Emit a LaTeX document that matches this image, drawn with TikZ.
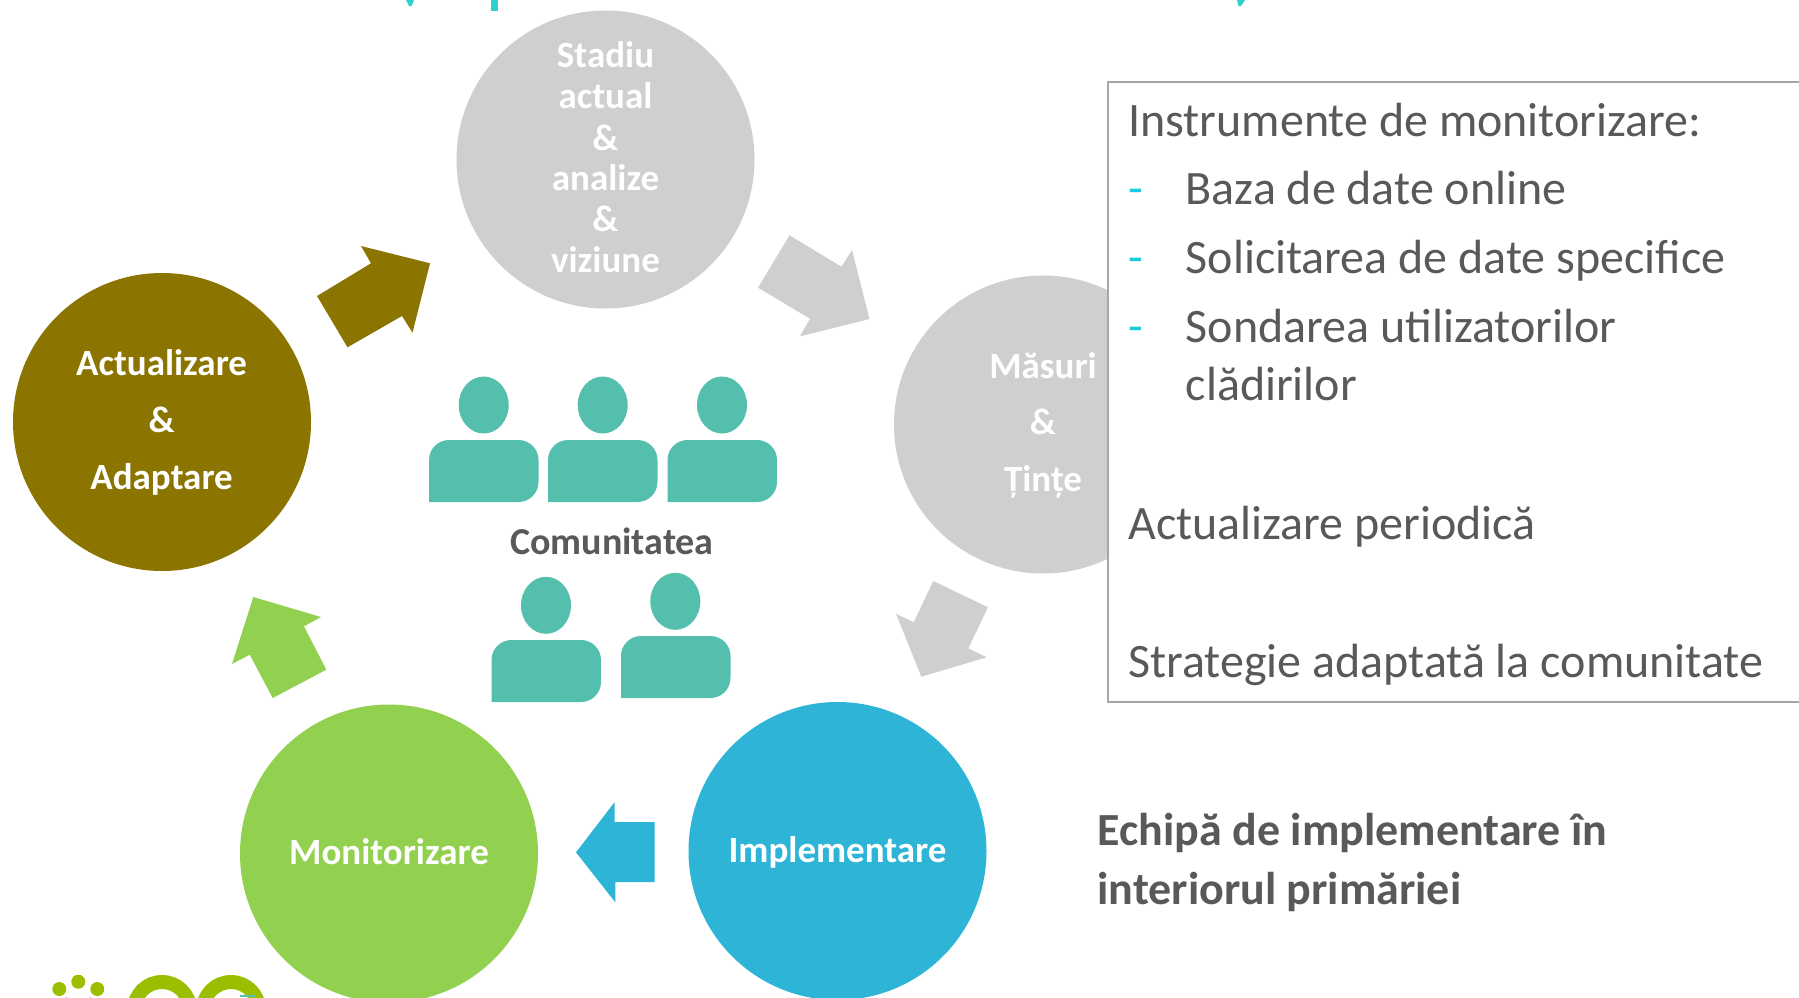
\documentclass[tikz,border=0pt]{standalone}
\usepackage{fontspec}
\setmainfont{Carlito}
\definecolor{greyc}{HTML}{D0CECE}
\definecolor{olive}{HTML}{8B7500}
\definecolor{lime}{HTML}{92D050}
\definecolor{sky}{HTML}{2DB4D6}
\definecolor{sea}{HTML}{55BFAD}
\definecolor{ink}{HTML}{595959}
\definecolor{dashc}{HTML}{18CBD8}
\definecolor{titlec}{HTML}{2FD0D0}
\definecolor{logo}{HTML}{9BBF00}
\tikzset{
  x=1pt,y=-1pt,
  stage/.style={circle,minimum size=298pt,inner sep=0pt,fill=#1},
  ctext/.style={text=white,font=\fontsize{37}{37}\selectfont\bfseries,anchor=base,inner sep=0pt},
  body/.style={text=ink,font=\fontsize{48}{48}\selectfont,anchor=base west,inner sep=0pt},
  bold/.style={text=ink,font=\fontsize{46}{46}\selectfont\bfseries,anchor=base west,inner sep=0pt},
  dashmark/.style={text=dashc,font=\fontsize{48}{48}\selectfont,anchor=base west,inner sep=0pt},
  head/.style={ellipse,minimum width=50pt,minimum height=57pt,inner sep=0pt,fill=sea},
}
\usetikzlibrary{shapes.geometric}
\newcommand{\person}[5]{% name, head x, head y, body left, body top
  \node[head] (#1h) at (#2,#3) {};
  \fill[sea,rounded corners=20pt] (#4,#5+62) -- (#4,#5) -- (#4+109.5,#5) -- (#4+109.5,#5+62) [sharp corners] -- cycle;
}
\begin{document}
\begin{tikzpicture}
\useasboundingbox (0,0) rectangle (1799,997);
\clip (0,0) rectangle (1799,997);
% cut-off title fragments
\fill[titlec] (490.6,0) rectangle (498,10.5);
\fill[titlec] (406,0) -- (414,0) -- (411.5,6) -- (409,6) -- cycle;
\fill[titlec] (1237,0) -- (1245,0) -- (1241,6) -- (1238.5,6) -- cycle;
% logo
\fill[logo] (59.3,989) circle (7);
\fill[logo] (78.3,981.7) circle (7);
\fill[logo] (97.3,989) circle (7);
\draw[color=black!15!violet!25,line width=1.5pt] (66,997) arc (180:0:12.3 and 4);
\draw[logo,line width=14pt] (162,1010) circle (28);
\draw[logo,line width=14pt] (231,1010) circle (28);
\draw[logo,line width=14pt] (270,1010) arc (180:85:28);
\fill[sea] (240,995) rectangle (255,997);
% circles
\node[stage=greyc] (stadiu) at (605.5,159.5) {};
\node[stage=olive] (actual) at (162,422) {};
\node[stage=greyc] (masuri) at (1043,424.5) {};
\node[stage=sky] (impl) at (837.5,851) {};
\node[stage=lime] (monit) at (389,853.5) {};
% arrows
\fill[olive] (361,246) -- (430,263.3) -- (412.5,332.7) -- (402,316) -- (347.5,347.3) -- (317,296) -- (371,263.3) -- cycle;
\fill[greyc] (789.5,235.3) -- (841.5,266.7) -- (852,250) -- (869.5,319) -- (800,336.3) -- (810,318.7) -- (758,287.7) -- cycle;
\fill[greyc] (933.3,581) -- (988,607.3) -- (968.3,648.3) -- (986.7,657.3) -- (921.3,676.7) -- (896,613.7) -- (913.7,622.3) -- cycle;
\fill[sky] (576,852.3) -- (614.7,802) -- (614.7,822) -- (654.7,822) -- (654.7,882) -- (615.3,882) -- (615.3,902.3) -- cycle;
\fill[lime] (253.3,597) -- (321,617) -- (304,626.3) -- (326.3,669.7) -- (272.7,698) -- (249.7,654.7) -- (232,664) -- cycle;
% circle texts
\node[ctext] (s1) at (605.5,67.7) {Stadiu};
\node[ctext] (s2) at (605.5,108.3) {actual};
\node[ctext] (s3) at (605.5,150) {\&};
\node[ctext] (s4) at (605.5,190) {analize};
\node[ctext] (s5) at (605.5,231.7) {\&};
\node[ctext] (s6) at (605.5,272.7) {viziune};
\node[ctext] (a1) at (161.6,375.7) {Actualizare};
\node[ctext] (a2) at (161.6,432) {\&};
\node[ctext] (a3) at (161.6,489) {Adaptare};
\node[ctext] (m1) at (1043,378) {Măsuri};
\node[ctext] (m2) at (1043,434) {\&};
\node[ctext] (m3) at (1043,491) {Țințe};
\node[ctext] (mon) at (389,864) {Monitorizare};
\node[ctext] (imp) at (837.5,862) {Implementare};
% people
\person{p1}{483.7}{405}{429}{440}
\person{p2}{602.7}{405}{548}{440}
\person{p3}{722}{405}{667.5}{440}
\person{p4}{546}{605.3}{491.5}{640}
\person{p5}{675.3}{601.3}{621}{636}
\node[text=ink,font=\fontsize{38}{38}\selectfont\bfseries,anchor=base,inner sep=0pt] (com) at (612,554) {Comunitatea};
% box
\node[draw=black!35,line width=2pt,fill=white,anchor=north west,minimum width=760pt,minimum height=620.3pt,inner sep=0pt] (box) at (1106.6,81) {};
\node[body] (t1) at (1128,136) {Instrumente de monitorizare:};
\node[dashmark] (d1) at (1128,204.3) {-};
\node[body] (t2) at (1185.5,204.3) {Baza de date online};
\node[dashmark] (d2) at (1128,273.3) {-};
\node[body] (t3) at (1185.5,273.3) {Solicitarea de date specifice};
\node[dashmark] (d3) at (1128,342.3) {-};
\node[body] (t4) at (1185.5,342.3) {Sondarea utilizatorilor};
\node[body] (t5) at (1185.5,400.7) {clădirilor};
\node[body] (t6) at (1128,539.3) {Actualizare periodică};
\node[body] (t7) at (1128,677.3) {Strategie adaptată la comunitate};
\node[bold] (e1) at (1097.4,845.7) {Echipă de implementare în};
\node[bold] (e2) at (1097.4,904) {interiorul primăriei};
\end{tikzpicture}
\end{document}
